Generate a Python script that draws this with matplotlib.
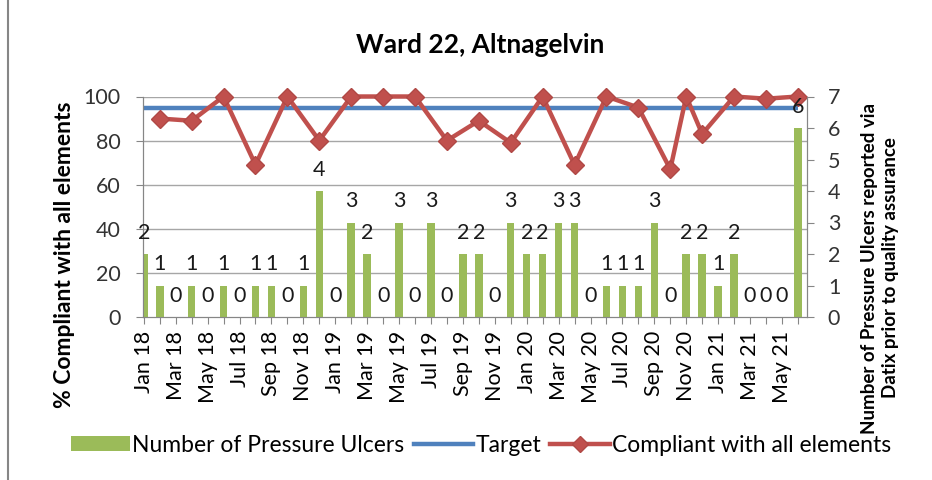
import matplotlib

matplotlib.use("Agg")
import matplotlib.pyplot as plt
from matplotlib.lines import Line2D
from matplotlib.patches import Patch


MONTHS = [
    "Jan 18", "Feb 18", "Mar 18", "Apr 18", "May 18", "Jun 18",
    "Jul 18", "Aug 18", "Sep 18", "Oct 18", "Nov 18", "Dec 18",
    "Jan 19", "Feb 19", "Mar 19", "Apr 19", "May 19", "Jun 19",
    "Jul 19", "Aug 19", "Sep 19", "Oct 19", "Nov 19", "Dec 19",
    "Jan 20", "Feb 20", "Mar 20", "Apr 20", "May 20", "Jun 20",
    "Jul 20", "Aug 20", "Sep 20", "Oct 20", "Nov 20", "Dec 20",
    "Jan 21", "Feb 21", "Mar 21", "Apr 21", "May 21", "Jun 21",
]

ULCERS = [
    2, 1, 0, 1, 0, 1, 0, 1, 1, 0, 1, 4,
    0, 3, 2, 0, 3, 0, 3, 0, 2, 2, 0, 3,
    2, 2, 3, 3, 0, 1, 1, 1, 3, 0, 2, 2,
    1, 2, 0, 0, 0, 6,
]

# audits were mostly every second month, gaps are None
COMPLIANT = [
    None, 90, None, 89, None, 100, None, 69, None, 100, None, 80,
    None, 100, None, 100, None, 100, None, 80, None, 89, None, 79,
    None, 100, None, 69, None, 100, None, 95, None, 67, 100, 83,
    None, 100, None, 99, None, 100,
]

TARGET = [95] * len(MONTHS)

GREEN = "#9BBB59"
BLUE = "#4F81BD"
RED = "#C0504D"
GRID = "#A6A6A6"
AXIS = "#868686"

plt.rcParams["font.family"] = ["Lato", "DejaVu Sans"]

W, H = 932, 480
fig = plt.figure(figsize=(W / 100, H / 100), dpi=100)

left, right, top, bottom = 143, 807, 96.5, 317
ax = fig.add_axes([left / W, 1 - bottom / H, (right - left) / W, (bottom - top) / H])
ax2 = ax.twinx()

x = list(range(len(MONTHS)))

# percent axis (left): grid, target, compliance
for v in [20, 40, 60, 80, 100]:
    ax.axhline(v, color=GRID, lw=1, zorder=0)
ax.plot(x, TARGET, color=BLUE, lw=3.2, solid_capstyle="butt", zorder=2)
cx = [i for i, v in enumerate(COMPLIANT) if v is not None]
cy = [COMPLIANT[i] for i in cx]
ax.plot(cx, cy, color=RED, lw=3.2, marker="D", ms=9.5, mfc=RED, mec="#B04845",
        mew=1, zorder=3, clip_on=False)

ax.set_ylim(0, 100)
ax.set_yticks([0, 20, 40, 60, 80, 100])
ax.set_xlim(-0.05, 41.57)
ax.set_xticks(x)
ax.set_xticklabels([m if i % 2 == 0 else "" for i, m in enumerate(MONTHS)],
                   rotation=90, fontsize=15.5, color="black")

# count axis (right): bars and labels
ax2.bar(x, ULCERS, width=0.47, color=GREEN, zorder=2)
for i, v in enumerate(ULCERS):
    ax2.annotate(str(v), (i, v), xytext=(0, 11), textcoords="offset points",
                 ha="center", va="baseline", fontsize=15.5, color="#1a1a1a",
                 annotation_clip=False)
ax2.set_ylim(0, 7)
ax2.set_yticks(range(8))

for a in (ax, ax2):
    a.spines["top"].set_visible(False)
    a.spines["left"].set_color(AXIS)
    a.spines["right"].set_color(AXIS)
    a.spines["bottom"].set_color(AXIS)
ax.tick_params(axis="y", length=5, color=AXIS, labelsize=15.5, labelcolor="#333333", pad=11)
ax.tick_params(axis="x", length=5, color=AXIS, pad=5)
ax2.tick_params(axis="y", length=5, color=AXIS, labelsize=15.5, labelcolor="#333333", pad=10)

fig.text(480 / W, 1 - 45 / H, "Ward 22, Altnagelvin", ha="center", va="center",
         fontsize=19, fontweight="bold")
fig.text(65 / W, 1 - 255 / H, "% Compliant with all elements", rotation=90,
         ha="center", va="center", fontsize=16.5, fontweight="bold")
fig.text(880 / W, 1 - 268 / H,
         "Number of Pressure Ulcers reported via\nDatix prior to quality assurance",
         rotation=90, ha="center", va="center", fontsize=13.5, fontweight="bold",
         multialignment="center", linespacing=1.3)

handles = [
    Patch(facecolor=GREEN, edgecolor="none"),
    Line2D([], [], color=BLUE, lw=3.2),
    Line2D([], [], color=RED, lw=3.2, marker="D", ms=8, mfc=RED, mec="#B04845"),
]
labels = ["Number of Pressure Ulcers", "Target", "Compliant with all elements"]
fig.legend(handles, labels, loc="center", bbox_to_anchor=(481 / W, 1 - 445 / H),
           ncol=3, frameon=False, fontsize=16.5, handlelength=2.6, handleheight=0.6,
           handletextpad=0.1, columnspacing=0.4, borderpad=0)

fig.add_artist(Line2D([8 / W, 8 / W], [0, 1], color=AXIS, lw=1.5))

fig.savefig("out.png", dpi=100)
